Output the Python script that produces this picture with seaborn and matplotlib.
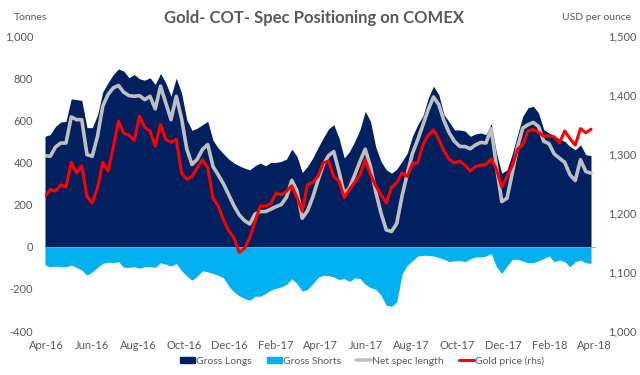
"""Gold COT: speculative positioning on COMEX (tonnes) against the gold price."""
import matplotlib

matplotlib.use("Agg")
import matplotlib.dates as mdates
import matplotlib.pyplot as plt
import pandas as pd
import seaborn as sns
from matplotlib.lines import Line2D
from matplotlib.patches import Patch
from matplotlib.ticker import FuncFormatter, MultipleLocator

# ── data (weekly) ─────────────────────────────────────────────────
START_DATE = "2016-03-30"
AXIS_END = "2018-04-03"

gross_longs = [
    524, 532, 571, 592, 595, 702, 698, 695, 565, 565,
    625, 735, 778, 817, 844, 833, 802, 817, 797, 790,
    802, 770, 822, 778, 714, 800, 730, 603, 552, 563,
    579, 595, 505, 468, 441, 416, 397, 384, 373, 365,
    384, 397, 384, 400, 400, 405, 416, 463, 429, 352,
    381, 421, 470, 516, 559, 579, 516, 421, 452, 500,
    556, 643, 595, 473, 405, 365, 349, 368, 405, 444,
    525, 579, 622, 706, 762, 722, 627, 592, 554, 554,
    549, 524, 535, 540, 532, 584, 444, 349, 365, 441,
    532, 619, 659, 667, 635, 556, 540, 527, 511, 500,
    476, 460, 484, 437, 432,
]
gross_shorts = [
    -87, -95, -92, -95, -95, -87, -98, -111, -135, -119,
    -98, -79, -73, -75, -71, -98, -98, -95, -102, -95,
    -95, -98, -76, -83, -92, -79, -114, -138, -159, -140,
    -114, -119, -127, -135, -148, -187, -214, -233, -246, -254,
    -235, -235, -222, -206, -198, -190, -179, -152, -175, -210,
    -203, -175, -146, -135, -137, -143, -156, -151, -165, -148,
    -151, -178, -194, -202, -230, -278, -283, -262, -130, -88,
    -67, -44, -41, -41, -44, -51, -60, -71, -67, -65,
    -71, -57, -48, -49, -44, -32, -95, -127, -92, -60,
    -60, -67, -76, -75, -67, -56, -44, -71, -63, -71,
    -95, -71, -63, -76, -79,
]
net_spec_length = [
    432, 429, 473, 492, 492, 616, 603, 603, 437, 429,
    524, 667, 722, 754, 765, 733, 717, 714, 717, 698,
    714, 654, 762, 683, 603, 714, 610, 465, 390, 415,
    462, 485, 381, 341, 298, 246, 194, 151, 124, 108,
    155, 167, 167, 178, 190, 200, 235, 315, 265, 135,
    170, 235, 315, 389, 432, 452, 357, 250, 280, 341,
    405, 463, 380, 260, 160, 80, 72, 110, 240, 345,
    444, 508, 579, 651, 711, 675, 598, 540, 500, 476,
    475, 465, 483, 495, 492, 560, 380, 214, 230, 349,
    473, 563, 579, 590, 571, 500, 489, 440, 420, 400,
    341, 314, 413, 357, 349,
]
gold_price = [
    1228, 1240, 1237, 1248, 1244, 1286, 1268, 1280, 1228, 1217,
    1243, 1286, 1271, 1311, 1356, 1335, 1332, 1323, 1364, 1345,
    1339, 1313, 1350, 1325, 1320, 1325, 1268, 1257, 1262, 1277,
    1290, 1277, 1225, 1212, 1188, 1170, 1158, 1133, 1140, 1158,
    1185, 1212, 1212, 1216, 1234, 1231, 1237, 1246, 1226, 1203,
    1248, 1252, 1262, 1285, 1288, 1262, 1254, 1226, 1240, 1252,
    1265, 1290, 1265, 1246, 1231, 1217, 1244, 1251, 1268, 1262,
    1284, 1285, 1316, 1332, 1341, 1325, 1305, 1291, 1285, 1288,
    1281, 1271, 1279, 1281, 1282, 1292, 1274, 1244, 1262, 1280,
    1308, 1316, 1339, 1342, 1337, 1330, 1331, 1329, 1319, 1339,
    1326, 1315, 1343, 1336, 1342,
]

left_ticks = [-400, -200, 0, 200, 400, 600, 800, 1000]
right_ticks = [1000, 1100, 1200, 1300, 1400, 1500]
legend_labels = ["Gross Longs", "Gross Shorts", "Net spec length", "Gold price (rhs)"]

# ── styling ───────────────────────────────────────────────────────
NAVY = "#002060"
SKY = "#00B0F0"
GREY = "#BFBFBF"
RED = "#FF0000"
TEXT = "#595959"

df = pd.DataFrame({
    "longs": gross_longs,
    "shorts": gross_shorts,
    "net": net_spec_length,
    "gold": gold_price,
})
df["date"] = pd.date_range(START_DATE, periods=len(df), freq="7D")

sns.set_theme(style="white")
plt.rcParams["font.family"] = ["Lato", "DejaVu Sans"]

W, H = 640, 375
PX_PER_DAY = 0.75
x0 = pd.Timestamp(START_DATE)
x1 = pd.Timestamp(AXIS_END)
left_px, top_px, bottom_px = 45, 36, 331
right_px = left_px + (x1 - x0).days * PX_PER_DAY

fig = plt.figure(figsize=(W / 100, H / 100), dpi=100)
ax = fig.add_axes([left_px / W, 1 - bottom_px / H, (right_px - left_px) / W, (bottom_px - top_px) / H])

ax.fill_between(df["date"], 0, df["longs"], color=NAVY, lw=0)
ax.fill_between(df["date"], 0, df["shorts"], color=SKY, lw=0)
ax.axhline(0, color="#8C96B4", lw=0.6)
sns.lineplot(data=df, x="date", y="net", ax=ax, color=GREY, lw=2.6, legend=False)

ax2 = ax.twinx()
sns.lineplot(data=df, x="date", y="gold", ax=ax2, color=RED, lw=2.2, legend=False)

ax.set_xlim(x0, x1)
ax.set_ylim(left_ticks[0], left_ticks[-1])
ax2.set_ylim(right_ticks[0], right_ticks[-1])
ax.yaxis.set_major_locator(MultipleLocator(200))
ax2.yaxis.set_major_locator(MultipleLocator(100))
comma = FuncFormatter(lambda v, _: f"{v:,.0f}")
ax.yaxis.set_major_formatter(comma)
ax2.yaxis.set_major_formatter(comma)

ax.xaxis.set_major_locator(mdates.MonthLocator(bymonth=[2, 4, 6, 8, 10, 12]))
ax.xaxis.set_major_formatter(mdates.DateFormatter("%b-%y"))

for a in (ax, ax2):
    a.set_xlabel("")
    a.set_ylabel("")
    a.grid(False)
    for s in a.spines.values():
        s.set_visible(False)
    a.tick_params(length=0, labelsize=8, labelcolor=TEXT)
ax.tick_params(axis="y", pad=8.5)
ax.tick_params(axis="x", pad=6.5)
ax2.tick_params(axis="y", pad=9)

fig.text(314 / W, 1 - 18 / H, "Gold- COT- Spec Positioning on COMEX",
         ha="center", va="center", fontsize=12, fontweight="bold", color=TEXT)
fig.text(30 / W, 1 - 18 / H, "Tonnes", ha="center", va="center", fontsize=7.5, color=TEXT)
fig.text(596 / W, 1 - 18 / H, "USD per ounce", ha="center", va="center", fontsize=7.5, color=TEXT)

handles = [
    Patch(color=NAVY),
    Patch(color=SKY),
    Line2D([], [], color=GREY, lw=2.6),
    Line2D([], [], color=RED, lw=2.2),
]
fig.legend(handles, legend_labels, loc="center", bbox_to_anchor=(362 / W, 1 - 361 / H),
           ncol=4, frameon=False, fontsize=7.5, handlelength=1.4, handleheight=0.6,
           handletextpad=0.1, columnspacing=1.5, labelcolor=TEXT)

fig.savefig("out.png", dpi=100)
